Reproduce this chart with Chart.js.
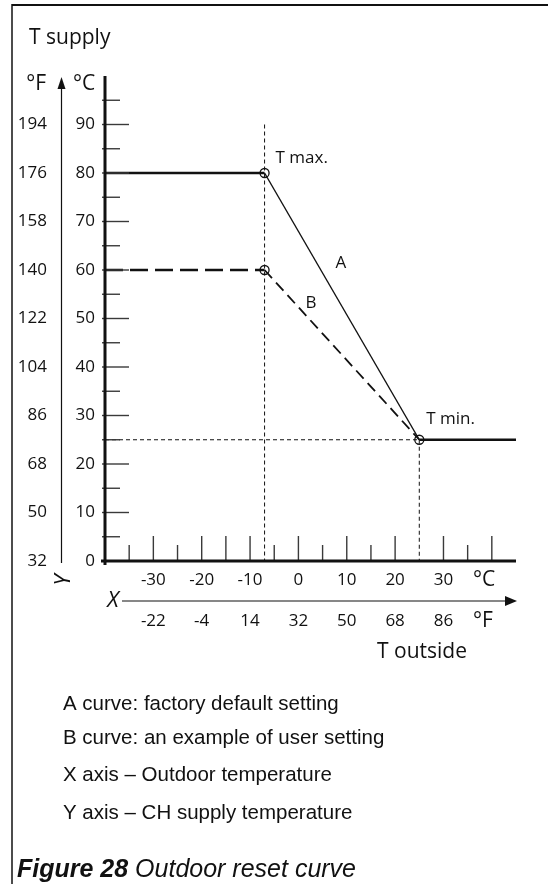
<!DOCTYPE html>
<html>
<head>
<meta charset="utf-8">
<title>Outdoor reset curve</title>
<script src="https://cdn.jsdelivr.net/npm/chart.js@4.4.1/dist/chart.umd.min.js"></script>
<style>
  html, body { margin: 0; padding: 0; background: #fff; }
  canvas { display: block; }
</style>
</head>
<body>
<canvas id="resetChart" width="548" height="884"></canvas>
<script>
// Outdoor temperature (°C) -> CH supply temperature (°C)
const curveA = [
    { x: -40, y: 80 }, { x: -7, y: 80 }, { x: 25, y: 25 }, { x: 45, y: 25 }
];
const curveB = [
    { x: -40, y: 60 }, { x: -7, y: 60 }, { x: 25, y: 25 }
];
const setPoints = [{ x: -7, y: 80 }, { x: -7, y: 60 }, { x: 25, y: 25 }];

// dashed helper lines through T max / T min
const guideTmax = [{ x: -7, y: 90 }, { x: -7, y: 0 }];
const guideTminH = [{ x: -40, y: 25 }, { x: 25, y: 25 }];
const guideTminV = [{ x: 25, y: 25 }, { x: 25, y: 0 }];

// axis ticks and labels
const yTicksC = [0, 10, 20, 30, 40, 50, 60, 70, 80, 90];
const yTicksF = [32, 50, 68, 86, 104, 122, 140, 158, 176, 194];
const yMinorTicks = [5, 15, 25, 35, 45, 55, 65, 75, 85, 95];
const xTicksC = [-30, -20, -10, 0, 10, 20, 30];
const xTicksF = [-22, -4, 14, 32, 50, 68, 86];
const xLongTicks = [-30, -20, -15, -10, 0, 10, 20, 30, 40];
const xShortTicks = [-35, -25, -5, 5, 15, 35];

const notes = [
    'A curve: factory default setting',
    'B curve: an example of user setting',
    'X axis \u2013 Outdoor temperature',
    'Y axis \u2013 CH supply temperature'
];

const INK = '#111';
const SANS = '"Open Sans", "Noto Sans", sans-serif';
const ARIAL = '"Liberation Sans", Arial, sans-serif';

function text(ctx, str, x, y, font, align, base) {
    ctx.font = font;
    ctx.textAlign = align || 'left';
    ctx.textBaseline = base || 'middle';
    ctx.fillText(str, x, y);
}

function line(ctx, x1, y1, x2, y2, w) {
    ctx.lineWidth = w;
    ctx.beginPath();
    ctx.moveTo(x1, y1);
    ctx.lineTo(x2, y2);
    ctx.stroke();
}

// Frame, axes, ticks, arrows and all the text around the plot
const figurePlugin = {
    id: 'figureDecor',
    afterDatasetsDraw(chart) {
        const { ctx } = chart;
        const sx = chart.scales.x;
        const sy = chart.scales.y;
        const x0 = sx.getPixelForValue(-40);
        const y0 = sy.getPixelForValue(0);
        const yTop = sy.getPixelForValue(100);
        const xEnd = sx.getPixelForValue(45);

        ctx.save();
        ctx.strokeStyle = INK;
        ctx.fillStyle = INK;

        // page frame
        line(ctx, 12, 5, 548, 5, 2);
        line(ctx, 12, 4, 12, 884, 1.5);

        // ticks
        ctx.strokeStyle = '#3a3a3a';
        yTicksC.forEach(v => {
            if (v > 0) line(ctx, x0 - 3, sy.getPixelForValue(v), x0 + 24, sy.getPixelForValue(v), 1.4);
        });
        yMinorTicks.forEach(v => line(ctx, x0 - 3, sy.getPixelForValue(v), x0 + 15, sy.getPixelForValue(v), 1.4));
        xLongTicks.forEach(v => line(ctx, sx.getPixelForValue(v), y0, sx.getPixelForValue(v), y0 - 25, 1.4));
        xShortTicks.forEach(v => line(ctx, sx.getPixelForValue(v), y0, sx.getPixelForValue(v), y0 - 16, 1.4));

        // axes
        ctx.strokeStyle = INK;
        line(ctx, x0, yTop, x0, y0 + 4, 3);
        line(ctx, x0 - 4, y0, xEnd, y0, 3);

        // y tick labels, °C and °F
        const fNum = '17px ' + SANS;
        yTicksC.forEach((v, i) => {
            const py = sy.getPixelForValue(v);
            text(ctx, String(v), x0 - 10, py, fNum, 'right');
            text(ctx, String(yTicksF[i]), 47, py, fNum, 'right');
        });

        // x tick labels
        xTicksC.forEach((v, i) => {
            const px = sx.getPixelForValue(v);
            text(ctx, String(v), px, y0 + 19, fNum, 'center');
            text(ctx, String(xTicksF[i]), px, y0 + 60, fNum, 'center');
        });

        const fBig = '21px ' + SANS;
        text(ctx, 'T supply', 29, 38, fBig);
        text(ctx, '\u00b0F', 46, 84, fBig, 'right');
        text(ctx, '\u00b0C', 73, 84, fBig);
        text(ctx, '\u00b0C', 473, y0 + 19, fBig);
        text(ctx, '\u00b0F', 473, y0 + 60, fBig);
        text(ctx, 'T outside', 377, 652, fBig);

        // vertical Y arrow
        line(ctx, 61.5, y0 + 2, 61.5, 88, 1.2);
        ctx.beginPath();
        ctx.moveTo(61.5, 77);
        ctx.lineTo(57.5, 89);
        ctx.lineTo(65.5, 89);
        ctx.closePath();
        ctx.fill();

        // horizontal X arrow
        const ay = y0 + 40;
        line(ctx, 122, ay, 506, ay, 1.2);
        ctx.beginPath();
        ctx.moveTo(517, ay);
        ctx.lineTo(505, ay - 5);
        ctx.lineTo(505, ay + 5);
        ctx.closePath();
        ctx.fill();

        text(ctx, 'X', 113, ay, 'italic 22px ' + SANS, 'center');
        ctx.save();
        ctx.translate(64, y0 + 19);
        ctx.rotate(-Math.PI / 2);
        text(ctx, 'Y', 0, 0, 'italic 22px ' + SANS, 'center');
        ctx.restore();

        // point annotations
        text(ctx, 'T max.', sx.getPixelForValue(-7) + 11, sy.getPixelForValue(80) - 15, fNum);
        text(ctx, 'T min.', sx.getPixelForValue(25) + 7, sy.getPixelForValue(25) - 21, fNum);
        text(ctx, 'A', sx.getPixelForValue(8.8), sy.getPixelForValue(61.4), fNum, 'center');
        text(ctx, 'B', sx.getPixelForValue(2.6), sy.getPixelForValue(53.2), fNum, 'center');

        // notes below the chart
        notes.forEach((s, i) => text(ctx, s, 63, [704, 738, 775, 813][i], '20.5px ' + ARIAL));

        // caption
        ctx.textBaseline = 'alphabetic';
        ctx.textAlign = 'left';
        ctx.font = 'italic bold 25px ' + ARIAL;
        ctx.fillText('Figure 28 ', 17, 877);
        const w = ctx.measureText('Figure 28 ').width;
        ctx.font = 'italic 25px ' + ARIAL;
        ctx.fillText('Outdoor reset curve', 17 + w, 877);

        ctx.restore();
    }
};

const flat = c => c.p0.parsed.y === c.p1.parsed.y;

const guideStyle = {
    showLine: true,
    borderColor: INK,
    borderWidth: 1,
    borderDash: [4, 3],
    pointRadius: 0
};

new Chart(document.getElementById('resetChart'), {
    type: 'scatter',
    data: {
        datasets: [
            {
                data: setPoints,
                pointRadius: 4.5,
                pointBorderWidth: 1.3,
                pointBorderColor: INK,
                pointBackgroundColor: 'rgba(0,0,0,0)'
            },
            {
                data: curveA,
                showLine: true,
                borderColor: INK,
                pointRadius: 0,
                segment: {
                    borderWidth: c => flat(c) ? 2.4 : 1.4
                }
            },
            {
                data: curveB,
                showLine: true,
                borderColor: INK,
                pointRadius: 0,
                segment: {
                    borderWidth: c => flat(c) ? 2.4 : 1.8,
                    borderDash: c => flat(c) ? [18, 7] : [11, 6]
                }
            },
            Object.assign({ data: guideTmax }, guideStyle),
            Object.assign({ data: guideTminH }, guideStyle),
            Object.assign({ data: guideTminV }, guideStyle)
        ]
    },
    options: {
        responsive: false,
        animation: false,
        layout: {
            padding: { left: 105, top: 76, right: 32, bottom: 323 }
        },
        scales: {
            x: { type: 'linear', min: -40, max: 45, display: false },
            y: { type: 'linear', min: 0, max: 100, display: false }
        },
        plugins: {
            legend: { display: false },
            tooltip: { enabled: false }
        }
    },
    plugins: [figurePlugin]
});
</script>
</body>
</html>
